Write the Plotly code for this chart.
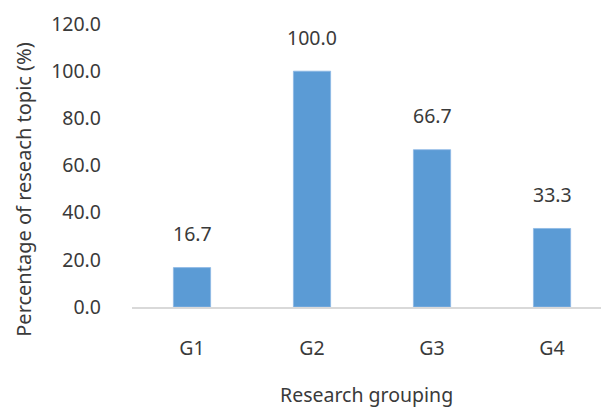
import plotly.graph_objects as go

groups = ["G1", "G2", "G3", "G4"]
percent = [16.7, 100.0, 66.7, 33.3]
y_ticks = [0, 20, 40, 60, 80, 100, 120]

font_family = "Noto Sans, Open Sans, DejaVu Sans, sans-serif"
text_color = "#3a3a3a"
fsize = 19.5

fig = go.Figure(
    go.Bar(
        x=groups,
        y=percent,
        width=0.31,
        marker=dict(color="#5B9BD5", line=dict(color="#8DB8E4", width=0.8)),
        hoverinfo="x+y",
    )
)

# value labels above each bar
for g, v in zip(groups, percent):
    fig.add_annotation(
        x=g, y=v, text=f"{v:.1f}", showarrow=False,
        yanchor="middle", yshift=34,
        font=dict(size=fsize, color=text_color, family=font_family),
    )

# axis titles
fig.add_annotation(
    xref="paper", yref="paper", x=0.5, y=-0.31,
    text="Research grouping", showarrow=False,
    xanchor="center", yanchor="middle",
    font=dict(size=fsize, color=text_color, family=font_family),
)
fig.add_annotation(
    xref="paper", yref="paper", x=-0.232, y=0.415,
    text="Percentage of reseach topic (%)", showarrow=False,
    textangle=-90, xanchor="center", yanchor="middle",
    font=dict(size=20, color=text_color, family=font_family),
)

fig.update_layout(
    width=601, height=407,
    margin=dict(l=132, r=0, t=24, b=100),
    paper_bgcolor="white", plot_bgcolor="white",
    showlegend=False,
    font=dict(family=font_family, size=fsize, color=text_color),
    xaxis=dict(
        range=[-0.5, 3.408],
        showline=True, linecolor="#D9D9D9", linewidth=1.5,
        showgrid=False, ticks="", ticklabelstandoff=23,
        tickfont=dict(size=fsize, color=text_color),
    ),
    yaxis=dict(
        range=[0, 120],
        tickvals=y_ticks, tickformat=".1f",
        showline=False, showgrid=False, zeroline=False,
        ticks="", ticklabelstandoff=30,
        tickfont=dict(size=fsize, color=text_color),
    ),
)

fig.write_html("out.html")
